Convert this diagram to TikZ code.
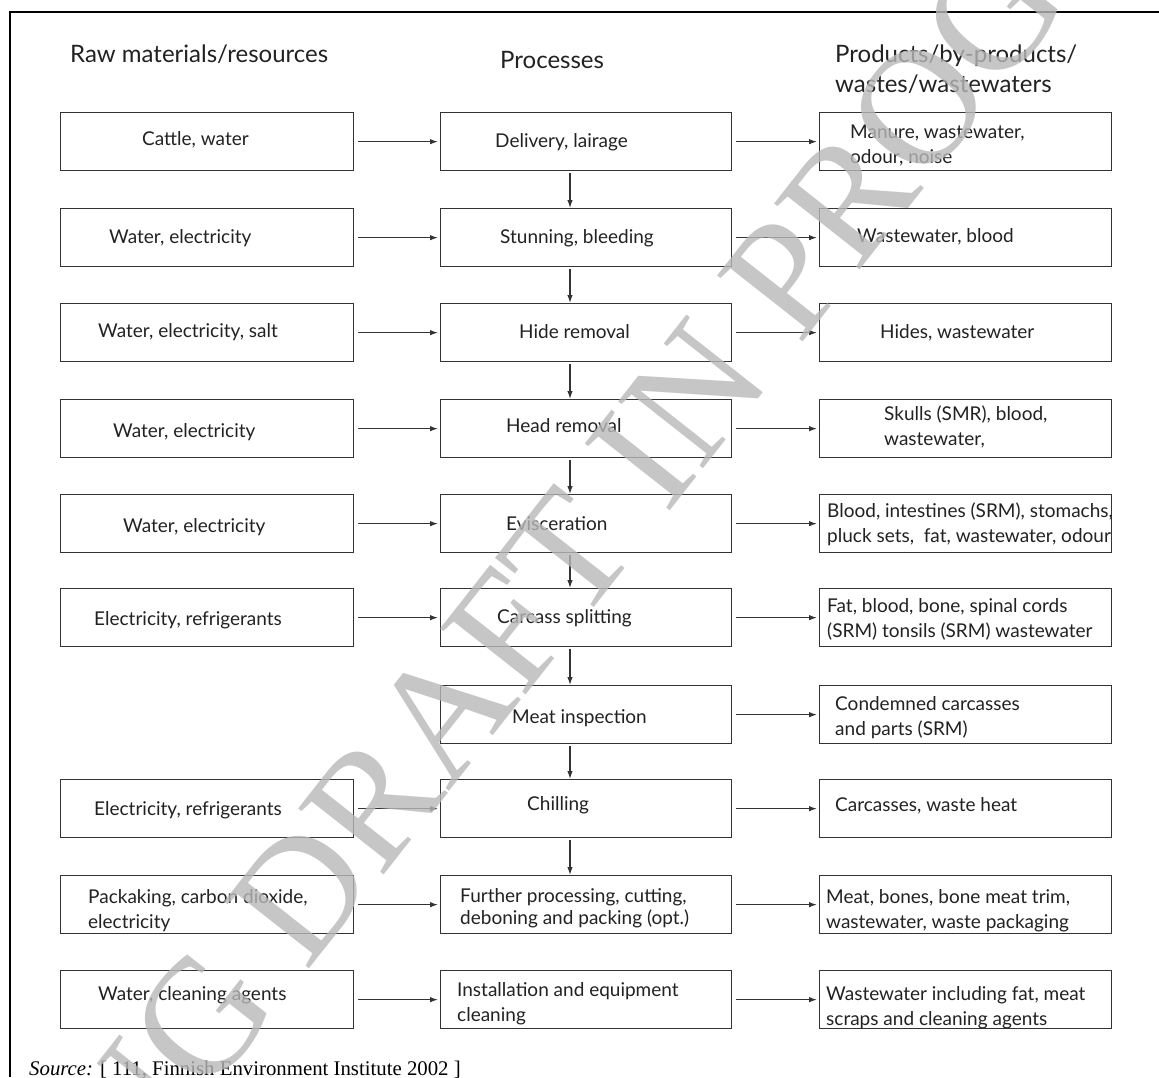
\documentclass[tikz,border=0pt]{standalone}
\usepackage{fontspec}
\setmainfont{Lato}
\newfontfamily\srcfont{Liberation Serif}
\usetikzlibrary{arrows.meta,calc}
\definecolor{txt}{HTML}{222222}
\definecolor{boxline}{HTML}{333333}
\definecolor{wmgray}{gray}{0.72}
\newcommand{\twoline}[2]{\vtop{\hbox{#1}\hbox{#2}}}
\tikzset{
 box/.style={draw=boxline, line width=1.3pt, minimum height=58pt, inner sep=0pt, anchor=north west},
 lbox/.style={box, minimum width=293pt},
 mbox/.style={box, minimum width=291pt},
 rbox/.style={box, minimum width=292pt},
 lbl/.style={anchor=base west, inner sep=0pt, text=txt, font=\fontsize{19}{25}\selectfont},
 hd/.style={anchor=base west, inner sep=0pt, text=txt, font=\fontsize{24}{30}\selectfont},
 arr/.style={draw=boxline, line width=1.2pt, -{Latex[length=8pt,width=5.5pt]}},
 harr/.style={arr, shorten <=4pt, shorten >=2pt},
 varr/.style={arr, shorten <=2pt},
 wm/.style={anchor=base west, inner sep=0pt, rotate=51.8, text=wmgray, text opacity=0.8, font=\srcfont\fontsize{165}{165}\selectfont},
}
\begin{document}
\begin{tikzpicture}[x=1pt,y=-1pt]
\useasboundingbox (0,0) rectangle (1159,1077);
\fill[white] (0,0) rectangle (1159,1077);
% frame
\draw[line width=2.2pt] (10,1077) -- (10,12) -- (1159,12);
% headings
\node[hd] (h1) at (70,62) {Raw materials/resources};
\node[hd] (h2) at (500,68) {Processes};
\node[hd] (h3) at (835,62) {\twoline{Products/by-products/}{wastes/wastewaters}};
% boxes
\foreach \r/\t in {1/112,2/208,3/303,4/399,5/494,6/588,7/685,8/779,9/875,10/970}{
  \node[mbox] (M\r) at (440,\t) {};
  \node[rbox] (R\r) at (819,\t) {};
}
\foreach \r/\t in {1/112,2/208,3/303,4/399,5/494,6/588,8/779,9/875,10/970}{
  \node[lbox] (L\r) at (60,\t) {};
  \draw[harr] (L\r.east) -- (M\r.west);
}
\foreach \r in {1,...,10}{
  \draw[harr] (M\r.east) -- (R\r.west);
}
\coordinate (vx) at (570,0);
\foreach \a/\b in {1/2,2/3,3/4,4/5,5/6,6/7,7/8,8/9}{
  \draw[varr] (M\a.south -| vx) -- (M\b.north -| vx);
}
% left texts
\node[lbl] (tl1) at (142,145) {Cattle, water};
\node[lbl] (tl2) at (109,243) {Water, electricity};
\node[lbl] (tl3) at (98,337) {Water, electricity, salt};
\node[lbl] (tl4) at (113,437) {Water, electricity};
\node[lbl] (tl5) at (123,532) {Water, electricity};
\node[lbl] (tl6) at (94,625) {Electricity, refrigerants};
\node[lbl] (tl8) at (94,815) {Electricity, refrigerants};
\node[lbl] (tl9) at (88,903) {\twoline{Packaking, carbon dioxide,}{electricity}};
\node[lbl] (tl10) at (98,1000) {Water, cleaning agents};
% middle texts
\node[lbl] (tm1) at (495,147) {Delivery, lairage};
\node[lbl] (tm2) at (500,243) {Stunning, bleeding};
\node[lbl] (tm3) at (519,338) {Hide removal};
\node[lbl] (tm4) at (506,432) {Head removal};
\node[lbl] (tm5) at (506,530) {Evisceration};
\node[lbl] (tm6) at (497,623) {Carcass splitting};
\node[lbl] (tm7) at (512,723) {Meat inspection};
\node[lbl] (tm8) at (527,810) {Chilling};
\node[lbl] (tm9) at (460,902) {\baselineskip=22pt\twoline{Further processing, cutting,}{deboning and packing (opt.)}};
\node[lbl] (tm10) at (457,996) {\twoline{Installation and equipment}{cleaning}};
% right texts
\node[lbl] (tr1) at (850,138) {\twoline{Manure, wastewater,}{odour, noise}};
\node[lbl] (tr2) at (857,242) {Wastewater, blood};
\node[lbl] (tr3) at (880,338) {Hides, wastewater};
\node[lbl] (tr4) at (884,420) {\twoline{Skulls (SMR), blood,}{wastewater,}};
\node[lbl] (tr5) at (827,517) {\twoline{Blood, intestines (SRM), stomachs,}{pluck sets,\ \ fat, wastewater, odour}};
\node[lbl] (tr6) at (827,612) {\twoline{Fat, blood, bone, spinal cords}{(SRM) tonsils (SRM) wastewater}};
\node[lbl] (tr7) at (835,710) {\twoline{Condemned carcasses}{and parts (SRM)}};
\node[lbl] (tr8) at (835,811) {Carcasses, waste heat};
\node[lbl] (tr9) at (826,903) {\twoline{Meat, bones, bone meat trim,}{wastewater, waste packaging}};
\node[lbl] (tr10) at (826,1000) {\twoline{Wastewater including fat, meat}{scraps and cleaning agents}};
% source
\node[anchor=base west, inner sep=0pt, text=black, font=\srcfont\fontsize{20.8}{24}\selectfont] (src) at (29,1075) {\textit{Source:} [ 111, Finnish Environment Institute 2002 ]};
% watermark
\begin{scope}
\clip (0,0) rectangle (1159,1077);
\node[wm] (wmk) at (-212,1632) {WORKING DRAFT IN PROGRESS};
\end{scope}
\end{tikzpicture}
\end{document}
